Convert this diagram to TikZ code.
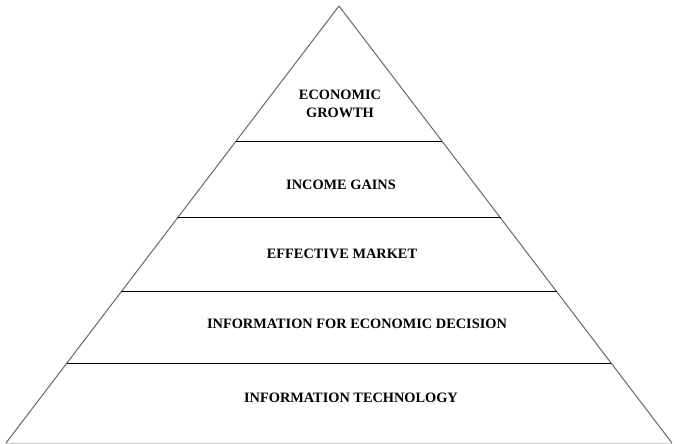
\documentclass[tikz,border=0pt]{standalone}
\usepackage{fontspec}
\setmainfont{Liberation Serif}
\usetikzlibrary{calc}
\tikzset{level/.style={font=\bfseries\fontsize{10.2}{13}\selectfont, align=center, inner sep=0pt}}
\begin{document}
\begin{tikzpicture}
	[x=0.025cm, y=-0.025cm, line width=0.7pt]
	\useasboundingbox (0,0) rectangle (676,444);
	\coordinate (top) at (339,6);
	\coordinate (bl) at (6,443);
	\coordinate (br) at (672,443);
	\draw[gray!80!black] (top) -- (bl);
	\draw[gray!80!black] (top) -- (br);
	\draw[gray!40, line width=0.5pt] (bl) -- (br);
	\foreach \t [count=\i] in {0.309,0.485,0.654,0.817}
		\draw ($(top)!\t!(bl)$) -- ($(top)!\t!(br)$);
	\node[level] (growth) at (340,104) {ECONOMIC\\GROWTH};
	\node[level] (income) at (341,185) {INCOME GAINS};
	\node[level] (market) at (342,254) {EFFECTIVE MARKET};
	\node[level] (decision) at (357,324) {INFORMATION FOR ECONOMIC DECISION};
	\node[level] (tech) at (351,398) {INFORMATION TECHNOLOGY};
\end{tikzpicture}
\end{document}
